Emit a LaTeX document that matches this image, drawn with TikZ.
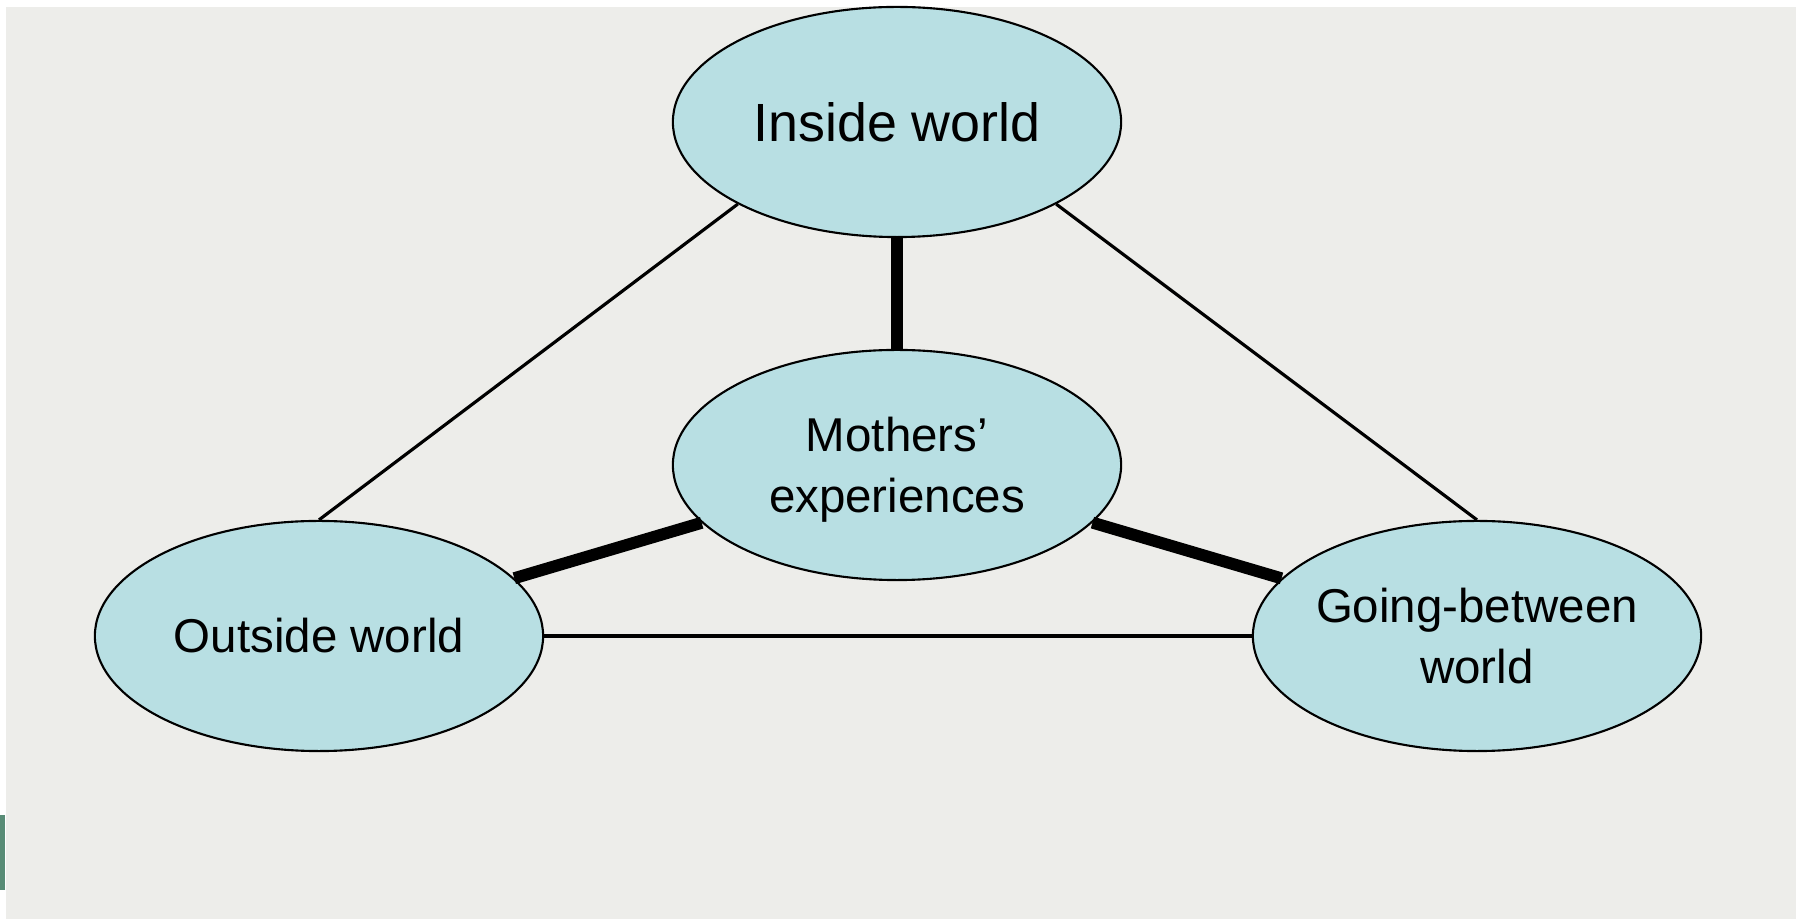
\documentclass[tikz,border=0pt]{standalone}
\usepackage{fontspec}
\setmainfont{Liberation Sans}
\usetikzlibrary{shapes.geometric}
\definecolor{bgtex}{RGB}{237,237,234}
\definecolor{bubfill}{RGB}{184,223,227}
\definecolor{sidebar}{RGB}{88,140,118}
\tikzset{
  bub/.style={ellipse, draw=black, line width=0.6pt, fill=bubfill,
    minimum width=4.48cm, minimum height=2.30cm, inner sep=0pt},
  lbl/.style={align=center, inner sep=0pt, font=\fontsize{13.5}{17.4}\selectfont},
  biglbl/.style={align=center, inner sep=0pt, font=\fontsize{15.3}{18}\selectfont},
  thinlink/.style={draw=black, line width=0.9pt},
  thicklink/.style={draw=black, line width=3.4pt}
}
\begin{document}
\begin{tikzpicture}[x=0.01cm, y=-0.01cm]
  \useasboundingbox (0,0) rectangle (1796,919);
  \fill[white] (0,0) rectangle (1796,919);
  \fill[bgtex] (6,7) rectangle (1796,919);
  \fill[sidebar] (0,815) rectangle (5,890);

  \node[bub] (inside)  at (897,122) {};
  \node[bub] (mothers) at (897,465) {};
  \node[bub] (outside) at (319,636) {};
  \node[bub] (going)   at (1477,636) {};

  \draw[thinlink] (inside.south west) -- (outside.north);
  \draw[thinlink] (inside.south east) -- (going.north);
  \draw[thinlink] (outside.east) -- (going.west);
  \draw[thicklink] (inside) -- (mothers);
  \draw[thicklink] (mothers) -- (outside);
  \draw[thicklink] (mothers) -- (going);

  \node[biglbl] (tinside)  at (inside)  {Inside world};
  \node[lbl]    (tmothers) at ([yshift=-0.05cm]mothers) {Mothers’\\experiences};
  \node[lbl]    (toutside) at (outside) {Outside world};
  \node[lbl]    (tgoing)   at (going)   {Going-between\\world};
\end{tikzpicture}
\end{document}
